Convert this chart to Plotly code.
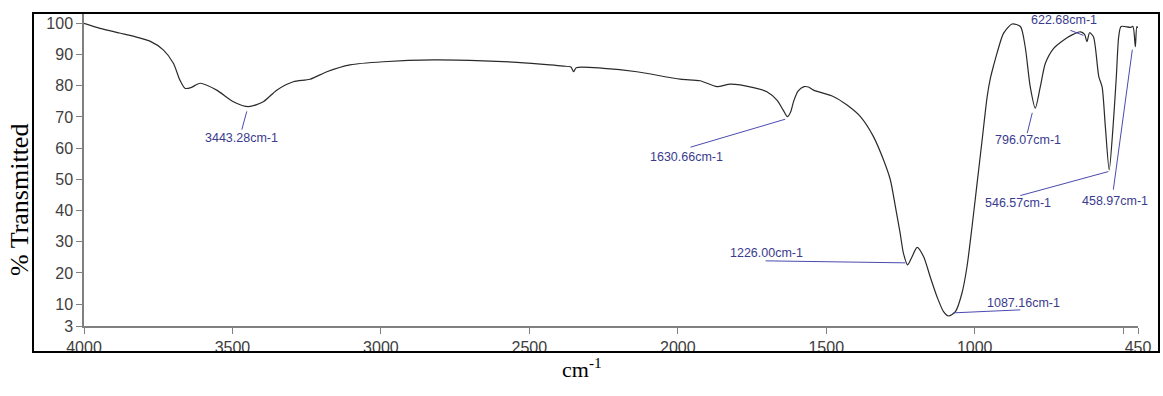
import numpy as np
import plotly.graph_objects as go

# ---------------- data ----------------
wavenumber = [4000, 3946, 3880, 3834, 3778, 3733, 3699, 3677, 3660, 3640, 3609, 3553, 3497,
              3446, 3396, 3351, 3295, 3239, 3182, 3104, 2992, 2823, 2655, 2542, 2430, 2385,
              2360, 2351, 2342, 2250, 2138, 1992, 1925, 1868, 1823, 1745, 1700, 1666, 1645,
              1631, 1620, 1610, 1595, 1575, 1560, 1543, 1475, 1430, 1385, 1341, 1307, 1284, 1267, 1251,
              1240, 1226, 1211, 1194, 1172, 1150, 1127, 1105, 1088, 1065, 1043, 1026, 1009,
              992, 975, 958, 947, 936, 925, 903, 874, 846, 830, 813, 796, 779, 762, 734, 700, 672,
              644, 630, 622, 613, 600, 582, 571, 560, 547, 534, 523, 515, 507, 476, 467, 459,
              454, 450]
transmittance = [100.0, 98.4, 96.9, 95.9, 94.3, 91.5, 87.2, 81.8, 79.2, 79.4, 80.8, 78.6, 74.9,
                 73.3, 74.9, 78.6, 81.3, 82.1, 84.5, 86.7, 87.7, 88.3, 88.0, 87.5, 86.7, 86.3,
                 86.0, 84.5, 85.8, 85.6, 84.5, 82.1, 81.6, 79.7, 80.5, 79.4, 78.1, 75.4, 72.2,
                 70.1, 71.6, 75.0, 78.3, 79.7, 79.6, 78.6, 76.5, 73.8, 70.1, 63.7, 56.2, 49.8, 41.2, 32.7,
                 26.3, 22.6, 25.2, 28.2, 25.2, 18.8, 12.4, 7.6, 6.2, 7.6, 13.5, 22.0, 34.8,
                 48.7, 62.6, 76.5, 82.5, 86.6, 90.4, 96.8, 99.8, 99.0, 92.5, 79.7, 72.8, 79.7, 87.2,
                 92.0, 94.7, 96.3, 97.3, 96.5, 94.1, 97.0, 95.7, 82.9, 79.7, 66.9, 53.0, 66.9,
                 82.9, 95.7, 99.0, 98.7, 99.0, 92.5, 99.0, 98.5]

peak_wn = [3443.28, 1630.66, 1226.00, 1087.16, 796.07, 622.68, 546.57, 458.97]
peak_labels = ["3443.28cm-1", "1630.66cm-1", "1226.00cm-1", "1087.16cm-1",
               "796.07cm-1", "622.68cm-1", "546.57cm-1", "458.97cm-1"]

x_tickvals = [4000, 3500, 3000, 2500, 2000, 1500, 1000, 500, 450]
x_ticktext = ["4000", "3500", "3000", "2500", "2000", "1500", "1000", "", "450"]
y_tickvals = [3, 10, 20, 30, 40, 50, 60, 70, 80, 90, 100]

x_title = "cm<sup>-1</sup>"
y_title = "% Transmitted"

# label geometry (screen pixels relative to each peak, y downward)
line_start = [(-2.5, 5), (-2.2, 2.7), (-2.3, -2), (4.5, -3), (-3, 4.7), (-3.4, -5.8), (-1, 3), (-3, 3)]
line_end = [(-7.5, 23.3), (-97, 30.7), (-142, -4), (71.5, -6), (-8, 25), (-16.4, -10.8), (-89, 27), (-22, 143)]
text_off = [(-7.7, 31.8), (-101, 40), (-141, -12), (74.5, -13), (-7, 32), (-23, -21), (-91, 34), (-20, 154)]

# ---------------- figure ----------------
L, R, T, B = 84, 25, 14, 70
W, H = 1163, 396
PW, PH = W - L - R, H - T - B

def px_x(px):
    return (px - L) / PW

def px_y(py):
    return (H - B - py) / PH

wn_asc = np.array(wavenumber[::-1], dtype=float)
t_asc = np.array(transmittance[::-1], dtype=float)
peak_t = np.interp(peak_wn, wn_asc, t_asc)

fig = go.Figure()
fig.add_trace(go.Scatter(x=wavenumber, y=transmittance, mode="lines",
                         line=dict(color="#2a2a2a", width=1.2, shape="spline", smoothing=0.7),
                         hoverinfo="skip", showlegend=False))

label_color = "#3b3b8e"
line_color = "#4a4ab0"
shapes = []
annotations = []
for wn, t, lab, s, e, o in zip(peak_wn, peak_t, peak_labels, line_start, line_end, text_off):
    shapes.append(dict(type="line", xref="x", yref="y",
                       xsizemode="pixel", xanchor=wn, x0=s[0], x1=e[0],
                       ysizemode="pixel", yanchor=t, y0=-s[1], y1=-e[1],
                       line=dict(color=line_color, width=1)))
    annotations.append(dict(x=wn, y=t, xref="x", yref="y", text=lab, showarrow=False,
                            xshift=o[0], yshift=-o[1], xanchor="center", yanchor="middle",
                            font=dict(family="Liberation Sans, Arial", size=12.5, color=label_color)))

# axis titles
annotations.append(dict(x=px_x(582), y=px_y(368), xref="paper", yref="paper", text=x_title,
                        showarrow=False, xanchor="center", yanchor="middle",
                        font=dict(family="Liberation Serif, Times New Roman", size=22, color="black")))
annotations.append(dict(x=px_x(19), y=px_y(200), xref="paper", yref="paper", text=y_title,
                        showarrow=False, xanchor="center", yanchor="middle", textangle=-90,
                        font=dict(family="Liberation Serif, Times New Roman", size=26, color="black")))

# outer black frame
shapes.append(dict(type="rect", xref="paper", yref="paper",
                   x0=px_x(33), x1=px_x(1159), y0=px_y(352), y1=px_y(13),
                   line=dict(color="black", width=2), layer="above"))

fig.update_layout(
    width=W, height=H,
    margin=dict(l=L, r=R, t=T, b=B),
    paper_bgcolor="white", plot_bgcolor="white",
    shapes=shapes, annotations=annotations,
    xaxis=dict(range=[4000, 450], tickvals=x_tickvals, ticktext=x_ticktext,
               showgrid=False, zeroline=False, showline=True, linecolor="#808080", linewidth=1.5,
               ticks="outside", ticklen=6, tickcolor="#808080",
               tickfont=dict(family="Liberation Sans, Arial", size=16, color="#404040")),
    yaxis=dict(range=[3, 103], tickvals=y_tickvals,
               showgrid=False, zeroline=False, showline=True, linecolor="#808080", linewidth=1.5,
               ticks="outside", ticklen=6, tickcolor="#808080",
               tickfont=dict(family="Liberation Sans, Arial", size=16, color="#404040")),
)

fig.write_html("out.html")
